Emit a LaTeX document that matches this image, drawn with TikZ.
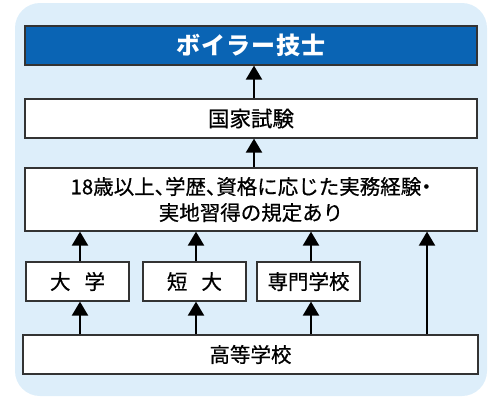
\documentclass[tikz,border=0pt]{standalone}
\usepackage{fontspec}
\setmainfont[FakeBold=0.6]{Noto Sans CJK JP}
\newfontfamily\jpt[LetterSpace=5]{Noto Sans CJK JP}
\newfontfamily\jpp[RawFeature=+palt,FakeBold=0.6]{Noto Sans CJK JP}
\usetikzlibrary{arrows.meta}
\definecolor{bgblue}{HTML}{DDEEFA}
\definecolor{titleblue}{HTML}{0A64B4}
\definecolor{edge}{HTML}{333333}
\tikzset{
  box/.style={draw=edge, line width=1.2pt, fill=white, inner sep=0pt,
    font=\fontsize{20.5}{26}\selectfont, text=black, align=center},
  titlebox/.style={box, fill=titleblue, text=white,
    font=\jpt\bfseries\fontsize{24}{28}\selectfont},
  arr/.style={line width=2pt, -{Triangle[width=16pt,length=14pt]}}
}
\begin{document}
\begin{tikzpicture}[x=1pt,y=-1pt]
\useasboundingbox (0,0) rectangle (500,400);
\fill[bgblue, rounded corners=25pt] (15,3) rectangle (487,396);
\node[titlebox, minimum width=452pt, minimum height=39pt] (title) at (251,45.5) {ボイラー技士};
\node[box, minimum width=452pt, minimum height=39pt, font=\fontsize{21.5}{26}\selectfont] (exam) at (251,118.5) {国家試験};
\node[box, minimum width=452pt, minimum height=63pt] (req) at (251,199.5)
  {18歳以上{\jpp 、}学歴{\jpp 、}資格に応じた実務経験{\jpp ・}\\実地習得の規定あり};
\node[box, minimum width=103pt, minimum height=39pt] (univ) at (77.5,281.5) {大\hspace{14pt}学};
\node[box, minimum width=103pt, minimum height=39pt] (junior) at (194.5,281.5) {短\hspace{14pt}大};
\node[box, minimum width=103pt, minimum height=39pt] (voc) at (308.5,281.5) {専門学校};
\node[box, minimum width=455pt, minimum height=39pt] (high) at (250.5,354.5) {高等学校};
\coordinate (ex) at (254,0);
\coordinate (ax) at (80,0);
\coordinate (bx) at (196,0);
\coordinate (cx) at (311,0);
\coordinate (rx) at (427,0);
\draw[arr] (ex |- exam.north) -- (ex |- title.south);
\draw[arr] (ex |- req.north) -- (ex |- exam.south);
\draw[arr] (ax |- univ.north) -- (ax |- req.south);
\draw[arr] (bx |- junior.north) -- (bx |- req.south);
\draw[arr] (cx |- voc.north) -- (cx |- req.south);
\draw[arr] (ax |- high.north) -- (ax |- univ.south);
\draw[arr] (bx |- high.north) -- (bx |- junior.south);
\draw[arr] (cx |- high.north) -- (cx |- voc.south);
\draw[arr] (rx |- high.north) -- (rx |- req.south);
\end{tikzpicture}
\end{document}
